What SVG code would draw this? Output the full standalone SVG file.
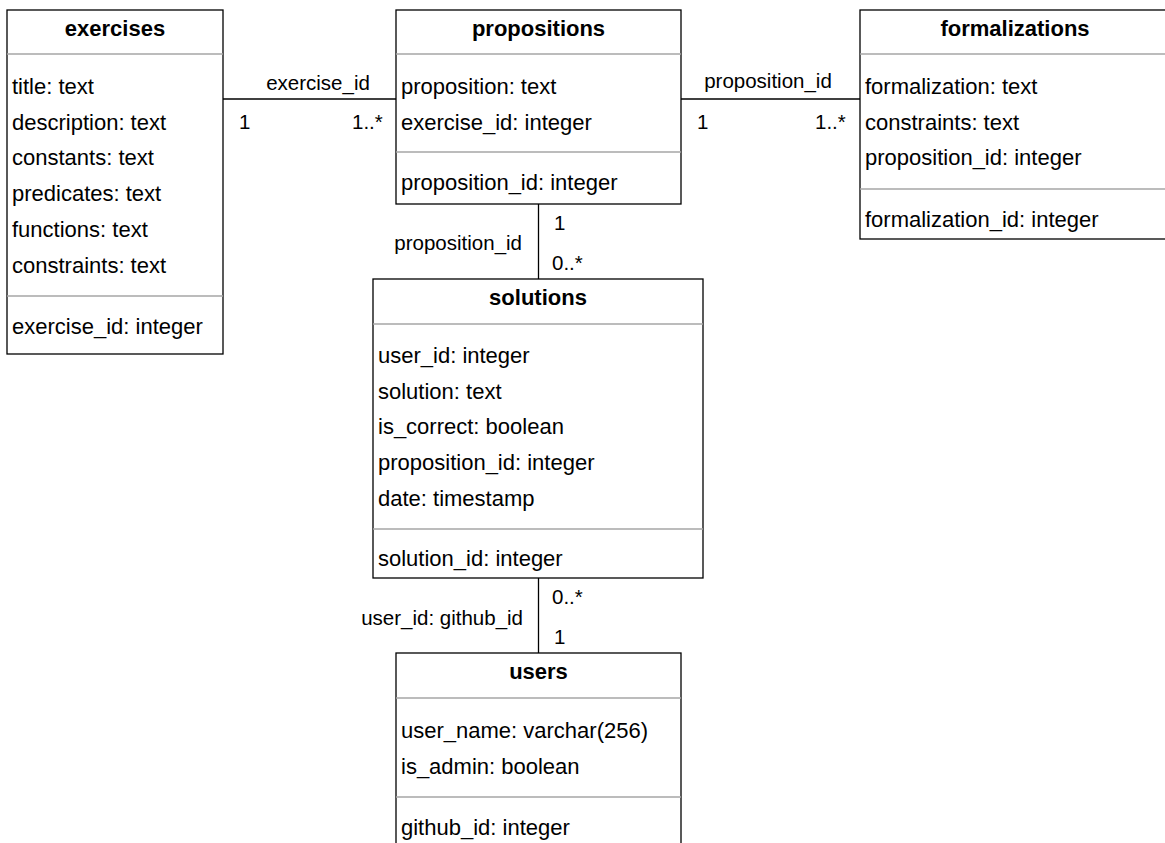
<svg xmlns="http://www.w3.org/2000/svg" width="1165" height="843" viewBox="0 0 1165 843">
<style>
.box{fill:#fff;stroke:#000;stroke-width:1.3}
.sep{stroke:#a6a6a6;stroke-width:1.6}
.title{font-family:"Liberation Sans",Arial,sans-serif;font-size:22px;font-weight:bold;fill:#000;text-anchor:middle}
.attr{font-family:"Liberation Sans",Arial,sans-serif;font-size:22px;fill:#000}
.lbl{font-family:"Liberation Sans",Arial,sans-serif;font-size:20.5px;fill:#000}
.conn{stroke:#000;stroke-width:1.3;fill:none}
</style>
<rect width="1165" height="843" fill="#fff"/>
<g id="connectors">
<line class="conn" x1="223" y1="99" x2="396" y2="99"/>
<line class="conn" x1="681" y1="99" x2="860" y2="99"/>
<line class="conn" x1="538.5" y1="204" x2="538.5" y2="279"/>
<line class="conn" x1="538.5" y1="578" x2="538.5" y2="653"/>
<text class="lbl" x="318" y="90" text-anchor="middle">exercise_id</text>
<text class="lbl" x="239" y="129">1</text>
<text class="lbl" x="352" y="129">1..*</text>
<text class="lbl" x="768" y="88" text-anchor="middle">proposition_id</text>
<text class="lbl" x="697" y="129">1</text>
<text class="lbl" x="815" y="129">1..*</text>
<text class="lbl" x="554" y="230">1</text>
<text class="lbl" x="522" y="250" text-anchor="end">proposition_id</text>
<text class="lbl" x="552" y="270">0..*</text>
<text class="lbl" x="552" y="604">0..*</text>
<text class="lbl" x="523" y="625" text-anchor="end">user_id: github_id</text>
<text class="lbl" x="554" y="644">1</text>
</g>
<g id="exercises">
<rect class="box" x="7" y="10" width="216" height="344"/>
<line class="sep" x1="7" y1="54" x2="223" y2="54"/>
<line class="sep" x1="7" y1="296" x2="223" y2="296"/>
<text class="title" x="115" y="36">exercises</text>
<text class="attr" x="12" y="94">title: text</text>
<text class="attr" x="12" y="129.7">description: text</text>
<text class="attr" x="12" y="165.4">constants: text</text>
<text class="attr" x="12" y="201.1">predicates: text</text>
<text class="attr" x="12" y="236.8">functions: text</text>
<text class="attr" x="12" y="272.5">constraints: text</text>
<text class="attr" x="12" y="334">exercise_id: integer</text>
</g>
<g id="propositions">
<rect class="box" x="396" y="10" width="285" height="194"/>
<line class="sep" x1="396" y1="54" x2="681" y2="54"/>
<line class="sep" x1="396" y1="152" x2="681" y2="152"/>
<text class="title" x="538.5" y="36">propositions</text>
<text class="attr" x="401" y="94">proposition: text</text>
<text class="attr" x="401" y="129.7">exercise_id: integer</text>
<text class="attr" x="401" y="190">proposition_id: integer</text>
</g>
<g id="formalizations">
<rect class="box" x="860" y="10" width="310" height="229"/>
<line class="sep" x1="860" y1="54" x2="1170" y2="54"/>
<line class="sep" x1="860" y1="189" x2="1170" y2="189"/>
<text class="title" x="1015" y="36">formalizations</text>
<text class="attr" x="865" y="94">formalization: text</text>
<text class="attr" x="865" y="129.7">constraints: text</text>
<text class="attr" x="865" y="165.4">proposition_id: integer</text>
<text class="attr" x="865" y="227">formalization_id: integer</text>
</g>
<g id="solutions">
<rect class="box" x="373" y="279" width="330" height="299"/>
<line class="sep" x1="373" y1="324" x2="703" y2="324"/>
<line class="sep" x1="373" y1="529" x2="703" y2="529"/>
<text class="title" x="538" y="305">solutions</text>
<text class="attr" x="378" y="363">user_id: integer</text>
<text class="attr" x="378" y="398.7">solution: text</text>
<text class="attr" x="378" y="434.4">is_correct: boolean</text>
<text class="attr" x="378" y="470.1">proposition_id: integer</text>
<text class="attr" x="378" y="505.8">date: timestamp</text>
<text class="attr" x="378" y="566">solution_id: integer</text>
</g>
<g id="users">
<rect class="box" x="396" y="653" width="285" height="220"/>
<line class="sep" x1="396" y1="698" x2="681" y2="698"/>
<line class="sep" x1="396" y1="797" x2="681" y2="797"/>
<text class="title" x="538.5" y="679">users</text>
<text class="attr" x="401" y="738">user_name: varchar(256)</text>
<text class="attr" x="401" y="773.7">is_admin: boolean</text>
<text class="attr" x="401" y="835">github_id: integer</text>
</g>
</svg>
